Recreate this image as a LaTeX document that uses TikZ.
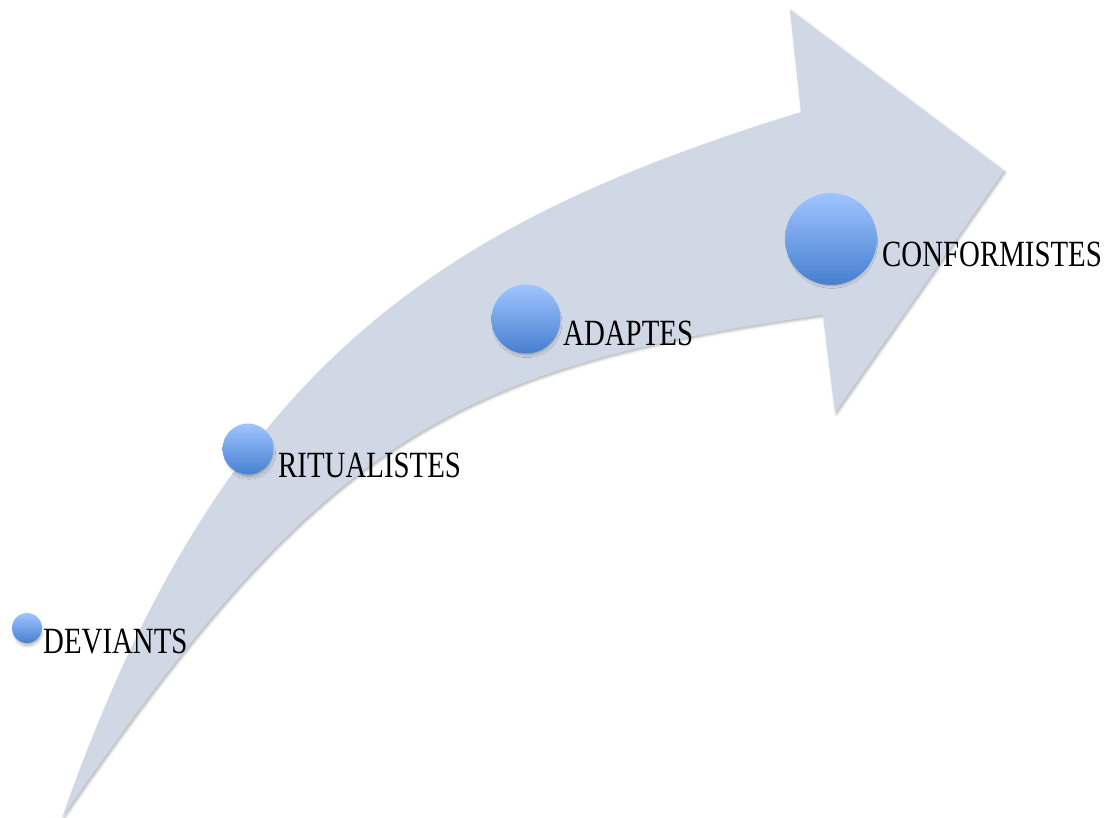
\documentclass[tikz,border=0pt]{standalone}
\usepackage{fontspec}
\setmainfont{Liberation Serif}[FakeStretch=0.78]
\usetikzlibrary{shadows.blur}
\definecolor{arrowfill}{RGB}{208,216,230}
\definecolor{balltop}{RGB}{160,196,255}
\definecolor{ballbot}{RGB}{70,128,208}
\tikzset{
  ball/.style={circle, inner sep=0pt, draw=none, top color=balltop, bottom color=ballbot,
    blur shadow={shadow scale=0.93, shadow xshift=1pt, shadow yshift=-4pt, shadow blur radius=3pt, shadow blur steps=8, shadow opacity=30}},
  lbl/.style={anchor=base west, inner sep=0pt, font=\fontsize{37}{42}\selectfont, text=black}
}
\begin{document}
\begin{tikzpicture}[x=1pt,y=-1pt]
\useasboundingbox (0,0) rectangle (1111,818);
% arrow geometry
\coordinate (tail) at (62,818);
\coordinate (nu) at (801,112);
\coordinate (bt) at (790,10);
\coordinate (tip) at (1004,171);
\coordinate (bb) at (835,413);
\coordinate (nl) at (823,315);
\fill[arrowfill, blur shadow={shadow xshift=1.5pt, shadow yshift=-1.5pt, shadow blur radius=2.5pt, shadow opacity=30}]
  (tail) .. controls (221,365) and (438,224) .. (nu)
  -- (bt) -- (tip) -- (bb) -- (nl)
  .. controls (447,367) and (317,447) .. (tail) -- cycle;
% balls
\node[ball, minimum size=30pt] (b1) at (27,628) {};
\node[ball, minimum size=51pt] (b2) at (248,449) {};
\node[ball, minimum size=69pt] (b3) at (526,319) {};
\node[ball, minimum size=92pt] (b4) at (831,239) {};
% labels
\node[lbl] (t1) at (43,653) {DEVIANTS};
\node[lbl] (t2) at (278,477) {RITUALISTES};
\node[lbl] (t3) at (563,345) {ADAPTES};
\node[lbl] (t4) at (882,267) {CONFORMISTES};
\end{tikzpicture}
\end{document}
